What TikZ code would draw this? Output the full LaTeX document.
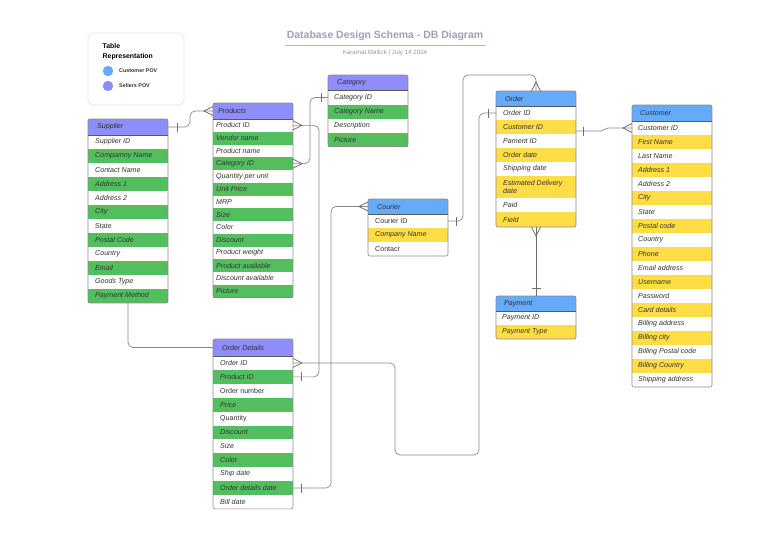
\documentclass[tikz,border=0pt]{standalone}
\usepackage{fontspec}
\setmainfont{Liberation Sans}
\usetikzlibrary{calc}
\definecolor{seller}{HTML}{8F8CFB}
\definecolor{cust}{HTML}{66AAFB}
\definecolor{grn}{HTML}{52BE5E}
\definecolor{ylw}{HTML}{FFDD44}
\definecolor{lnc}{HTML}{8A8A8A}
\definecolor{txt}{HTML}{333333}
\definecolor{ttl}{HTML}{9EA2B4}
\definecolor{bord}{HTML}{8C8C8C}
\tikzset{
  conn/.style={draw=lnc, line width=0.7pt, rounded corners=5pt},
  footln/.style={draw=lnc!80!black, line width=0.7pt},
  rowbox/.style={rectangle, draw=none, minimum width=80pt, inner sep=0pt, outer sep=0pt},
  hdrbox/.style={rectangle, draw=none, minimum width=80pt, inner sep=0pt, outer sep=0pt},
  rowtxt/.style={font=\fontsize{7.1}{8.4}\selectfont\itshape, text=txt, inner sep=0pt, anchor=west, align=left},
  hdrtxt/.style={font=\fontsize{7.1}{8.4}\selectfont\itshape, text=txt!90!black, inner sep=0pt, anchor=west},
  tblborder/.style={draw=bord, line width=0.6pt, rounded corners=2pt},
  hdrline/.style={draw=black!65, line width=0.8pt},
  legt/.style={font=\fontsize{6.9}{8}\selectfont\bfseries, text=black, inner sep=0pt, anchor=west},
  legs/.style={font=\fontsize{5.4}{6}\selectfont\bfseries, text=black!80, inner sep=0pt, anchor=west},
}
% table macro: #1 name #2 x #3 ytop #4 header h #5 header colour #6 alt colour #7 title #8 rows (text/height)
\newcommand{\erdtable}[8]{%
  \node[hdrbox, fill=#5, minimum height=#4] (#1) at (#2+40,#3+#4/2) {};
  \node[hdrtxt] (#1-t) at ([xshift=\hoff pt]#1.west) {#7};
  \pgfmathsetmacro\erdy{#3+#4}\global\let\erdy\erdy
  \foreach \rt/\rh [count=\ri] in {#8} {%
    \ifodd\ri\def\rc{white}\else\def\rc{#6}\fi
    \pgfmathsetmacro\yc{\erdy+\rh/2}
    \node[rowbox, fill=\rc, minimum height=\rh] (#1-\ri) at (#2+40,\yc) {};
    \node[rowtxt] (#1-\ri-t) at ([xshift=\toff pt]#1-\ri.west) {\rt};
    \pgfmathsetmacro\ny{\erdy+\rh}\global\let\erdy\ny
  }
  \coordinate (#1-s) at (#2+40,\erdy);
  \draw[tblborder] (#2,#3) rectangle (#2+80,\erdy);
  \draw[hdrline] (#2,#3+#4) -- (#2+80,#3+#4);
}
\newcommand{\crowE}[1]{\draw[footln] ($(#1)+(0,-4.5)$) -- ($(#1)+(9,0)$) -- ($(#1)+(0,4.5)$);}
\newcommand{\crowW}[1]{\draw[footln] ($(#1)+(0,-4.5)$) -- ($(#1)+(-9,0)$) -- ($(#1)+(0,4.5)$);}
\newcommand{\crowV}[2]{\draw[footln] ($(#1)+(-4.5,0)$) -- ($(#1)+(0,#2)$) -- ($(#1)+(4.5,0)$);}
\newcommand{\barH}[2]{\draw[footln] ($(#1)+(#2,-4.5)$) -- ($(#1)+(#2,4.5)$);}
\newcommand{\barV}[2]{\draw[footln] ($(#1)+(-4.5,#2)$) -- ($(#1)+(4.5,#2)$);}
\begin{document}
\begin{tikzpicture}[x=1pt,y=-1pt]
\useasboundingbox (0,0) rectangle (768,543);
\fill[white] (0,0) rectangle (768,543);

% legend
\draw[draw=black!10, line width=0.6pt, rounded corners=6pt] (88,33) rectangle (184,105);
\node[legt] (lg1) at (102.5,46.5) {Table};
\node[legt] (lg2) at (102.5,57) {Representation};
\node[circle, fill=cust, minimum size=10.4pt, inner sep=0pt] (lc1) at (108,71) {};
\node[circle, fill=seller, minimum size=10.4pt, inner sep=0pt] (lc2) at (108,86) {};
\node[legs] (ll1) at (119,71) {Customer POV};
\node[legs] (ll2) at (119,86) {Sellers POV};

% title
\node[font=\fontsize{10.45}{12}\selectfont\bfseries, text=ttl, inner sep=0pt] (title) at (385,36) {Database Design Schema - DB Diagram};
\draw[ttl!80, line width=0.8pt] (285,45) -- (485,45);
\node[font=\fontsize{6.2}{7}\selectfont, text=black!40, inner sep=0pt] (sub) at (385,52.5) {Karamat Mallick | July 14 2024};

% tables
\def\hoff{9}\def\toff{7}
\erdtable{sup}{88}{119}{16}{seller}{grn}{Supplier}{Supplier ID/14,Compamny Name/14,Contact Name/14,Address 1/14,Address 2/14,City/14,{\upshape State}/14,Postal Code/14,Country/14,Email/14,Goods Type/14,Payment Method/14}
\def\hoff{5}\def\toff{3}
\erdtable{prod}{213}{103}{16}{seller}{grn}{Products}{Product ID/12.75,Vendor name/12.75,Product name/12.75,Category ID/12.75,Quantity per unit/12.75,Unit Price/12.75,MRP/12.75,Size/12.75,Color/12.75,Discount/12.75,Product weight/12.75,Product available/12.75,Discount available/12.75,Picture/12.75}
\def\hoff{9}\def\toff{6}
\erdtable{cat}{328}{75}{15.5}{seller}{grn}{Category}{Category ID/14,Category Name/14,Description/14,Picture/14}
\def\hoff{9}\def\toff{7}
\erdtable{cour}{368}{199}{15}{cust}{ylw}{Courier}{{\upshape Courier ID}/14,Company Name/14,{\upshape Contacr}/14}
\def\hoff{9}\def\toff{7}
\erdtable{ord}{496}{91}{15}{cust}{ylw}{Order}{Order ID/14,Customer ID/14,Pament ID/14,Order date/14,Shipping date/14,{Estimated Delivery\\date}/22,Paid/14,Field/15}
\def\hoff{8}\def\toff{6}
\erdtable{pay}{496}{296}{15}{cust}{ylw}{Payment}{Payment ID/14,Payment Type/14}
\def\hoff{8}\def\toff{6}
\erdtable{cust}{632}{105}{16}{cust}{ylw}{Customer}{Customer ID/14,First Name/14,Last Name/14,Address 1/14,Address 2/14,City/14,State/14,Postal code/14,Country/14,Phone/14,Email address/14,Username/14,Password/14,Card details/14,Billing address/14,Billing city/14,Billing Postal code/14,Billing Country/14,Shipping address/14}
\def\hoff{9}\def\toff{7}
\erdtable{od}{213}{339}{17}{seller}{grn}{Order Details}{Order ID/13.9,Product ID/13.9,{\upshape Order number}/13.9,Price/13.9,{\upshape Quantity}/13.9,Discount/13.9,Size/13.9,Color/13.9,Ship date/13.9,Order details date/13.9,Bill date/13.9}

% connectors
\draw[conn] (sup.east) -- ++(22,0) |- (prod.west);
\barH{sup.east}{9}\crowW{prod.west}

\draw[conn] (prod-4.east) -- ++(17,0) |- (cat-1.west);
\crowE{prod-4.east}\barH{cat-1.west}{-7}

\draw[conn] (prod-1.east) -- ++(26,0) |- (od-2.east);
\crowE{prod-1.east}\barH{od-2.east}{8}

\draw[conn] (cour.west) -- ++(-37,0) |- (od-10.east);
\crowW{cour.west}\barH{od-10.east}{8}

\draw[conn] (cour-1.east) -- ++(15,0) |- ([yshift=16pt]ord.north) -- (ord.north);
\barH{cour-1.east}{8}\crowV{ord.north}{-9}

\draw[conn] (od-1.east) -- ++(102,0) -- ++(0,92) -| ([xshift=-17pt]ord-1.west) -- (ord-1.west);
\crowE{od-1.east}\barH{ord-1.west}{-8}

\draw[conn, draw=lnc!80!black] (ord-s) -- (pay.north);
\crowV{ord-s}{9}\barV{pay.north}{-8}

\coordinate (oc) at ([yshift=-4pt]ord-2.east);
\draw[conn, rounded corners=2pt] (oc) -- ++(27,0) -- ([xshift=-26pt]cust-1.west) -- (cust-1.west);
\barH{oc}{7}\crowW{cust-1.west}

\draw[conn] (sup-s) |- (od.west);
\end{tikzpicture}
\end{document}
